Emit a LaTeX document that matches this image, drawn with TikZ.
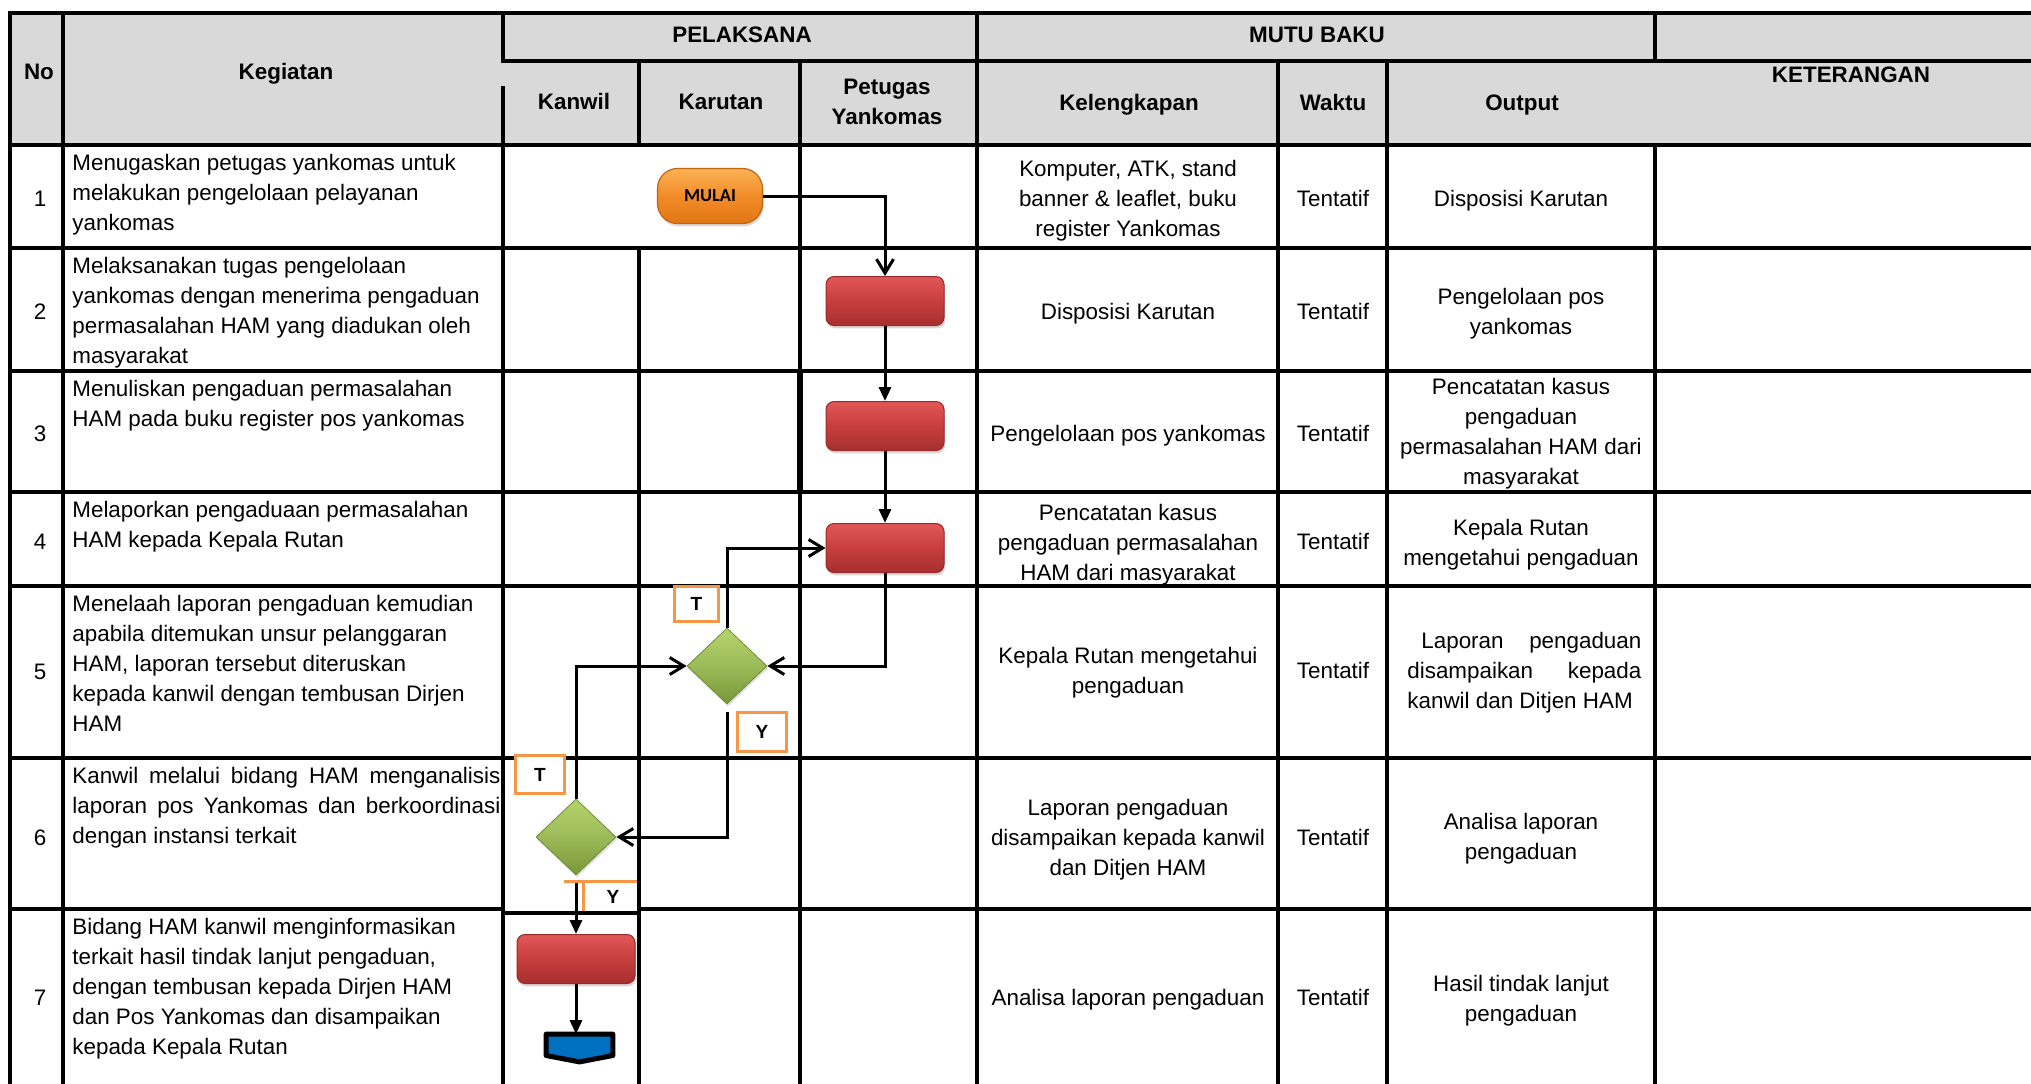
\documentclass[tikz,border=0pt]{standalone}
\usepackage{fontspec}
\setmainfont{Liberation Sans}
\newfontfamily\calibfont{Carlito}
\usetikzlibrary{arrows.meta,shapes.geometric,shadows,calc}

\definecolor{hdrgray}{HTML}{D9D9D9}
\definecolor{lblorange}{HTML}{F79646}
\definecolor{redtop}{HTML}{E25656}
\definecolor{redmid}{HTML}{C83E3E}
\definecolor{redbot}{HTML}{A62F2F}
\definecolor{redline}{HTML}{9A2A2A}
\definecolor{greentop}{HTML}{B6D46C}
\definecolor{greenmid}{HTML}{9BBB59}
\definecolor{greenbot}{HTML}{789838}
\definecolor{greenline}{HTML}{6E8C33}
\definecolor{orgtop}{HTML}{FBB255}
\definecolor{orgmid}{HTML}{F28C28}
\definecolor{orgbot}{HTML}{E07614}
\definecolor{orgline}{HTML}{C0640E}
\definecolor{endblue}{HTML}{0070C0}

\newcommand{\cellbox}[2]{\parbox[t]{#1}{\centering #2}}
\newcommand{\leftbox}[2]{\parbox[t]{#1}{\raggedright #2}}

\begin{document}
\begin{tikzpicture}[x=0.5pt,y=-0.5pt,
  every node/.style={font=\fontsize{11.2}{15}\selectfont, inner sep=0pt},
  rule/.style={line width=1.6pt, line cap=rect},
  hdr/.style={anchor=base, font=\fontsize{11.2}{15}\selectfont\bfseries},
  body/.style={anchor=base},
  keg/.style={anchor=base west},
  startstop/.style={rectangle, rounded corners=10pt, minimum width=52.5pt,
    minimum height=27.5pt, draw=orgline, line width=0.6pt,
    top color=orgtop, bottom color=orgbot, middle color=orgmid,
    drop shadow={opacity=0.3, shadow xshift=0.6pt, shadow yshift=-1.4pt},
    font=\calibfont\bfseries\fontsize{9.2}{10}\selectfont},
  procbox/.style={rectangle, rounded corners=4pt, minimum width=59pt,
    minimum height=24.5pt, draw=redline, line width=0.5pt,
    top color=redtop, bottom color=redbot, middle color=redmid,
    drop shadow={opacity=0.3, shadow xshift=0.6pt, shadow yshift=-1.4pt}},
  decision/.style={diamond, minimum width=40pt, minimum height=38pt,
    draw=greenline, line width=0.4pt,
    top color=greentop, bottom color=greenbot, middle color=greenmid,
    drop shadow={opacity=0.25, shadow xshift=0.5pt, shadow yshift=-1.2pt}},
  lblbox/.style={rectangle, draw=lblorange, line width=1.5pt, fill=white,
    font=\fontsize{9.5}{10}\selectfont\bfseries},
  lbltext/.style={font=\fontsize{9.5}{10}\selectfont\bfseries},
  lblline/.style={draw=lblorange, line width=1.5pt},
  endnode/.style={rectangle, minimum width=33pt, minimum height=13.5pt},
  endshape/.style={fill=endblue, draw=black, line width=2.5pt, line join=round},
  conn/.style={line width=1.5pt},
  vee/.style={-{Straight Barb[length=7pt,width=8.5pt]}},
  filled/.style={-{Triangle[length=7pt,width=6pt]}}
]
\useasboundingbox (0,0) rectangle (2031,1083);
\fill[white] (0,0) rectangle (2031,1083);

% header band
\fill[hdrgray] (10,13) rectangle (2031,145);

% horizontal rules
\draw[rule] (10,13) -- (2031,13);
\draw[rule] (503,61) -- (2031,61);
\foreach \yy in {145,248,371,492,586,758}
  \draw[rule] (10,\yy) -- (2031,\yy);
\draw[rule] (10,909) -- (503,909);
\draw[rule] (507,913) -- (636,913);
\draw[rule] (639,909) -- (2031,909);

% vertical rules
\draw[rule] (10,13) -- (10,1083);
\draw[rule] (63,13) -- (63,1083);
\draw[rule] (503,13) -- (503,61);
\draw[rule] (503,88) -- (503,1083);
\draw[rule] (639,61) -- (639,145);
\draw[rule] (639,248) -- (639,1083);
\draw[rule] (800,61) -- (800,1083);
\draw[line width=2.6pt] (800,371) -- (800,492);
\draw[rule] (977,13) -- (977,1083);
\draw[rule] (1278,61) -- (1278,1083);
\draw[rule] (1387,61) -- (1387,1083);
\draw[rule] (1655,13) -- (1655,61);
\draw[rule] (1655,145) -- (1655,1083);

% header labels
\node[hdr] (hno) at (39,79) {No};
\node[hdr] (hkeg) at (286,79) {Kegiatan};
\node[hdr] (hpel) at (742,42) {PELAKSANA};
\node[hdr] (hmutu) at (1317,42) {MUTU BAKU};
\node[hdr] (hket) at (1851,82) {KETERANGAN};
\node[hdr] (hkanwil) at (574,109) {Kanwil};
\node[hdr] (hkarutan) at (721,109) {Karutan};
\node[hdr] (hpetugas) at (887,94) {\cellbox{80pt}{Petugas\\Yankomas}};
\node[hdr] (hkel) at (1129,110) {Kelengkapan};
\node[hdr] (hwaktu) at (1333,110) {Waktu};
\node[hdr] (houtput) at (1522,110) {Output};

% row numbers
\node[body] (n1) at (40,206) {1};
\node[body] (n2) at (40,319) {2};
\node[body] (n3) at (40,441) {3};
\node[body] (n4) at (40,549) {4};
\node[body] (n5) at (40,679) {5};
\node[body] (n6) at (40,845) {6};
\node[body] (n7) at (40,1005) {7};

% activities
\node[keg] (k1) at (72,170) {\leftbox{230pt}{Menugaskan petugas yankomas untuk\\melakukan pengelolaan pelayanan\\yankomas}};
\node[keg] (k2) at (72,273) {\leftbox{230pt}{Melaksanakan tugas pengelolaan\\yankomas dengan menerima pengaduan\\permasalahan HAM yang diadukan oleh\\masyarakat}};
\node[keg] (k3) at (72,396) {\leftbox{230pt}{Menuliskan pengaduan permasalahan\\HAM pada buku register pos yankomas}};
\node[keg] (k4) at (72,517) {\leftbox{230pt}{Melaporkan pengaduaan permasalahan\\HAM kepada Kepala Rutan}};
\node[keg] (k5) at (72,611) {\leftbox{230pt}{Menelaah laporan pengaduan kemudian\\apabila ditemukan unsur pelanggaran\\HAM, laporan tersebut diteruskan\\kepada kanwil dengan tembusan Dirjen\\HAM}};
\node[keg] (k6) at (72,783) {\leftbox{230pt}{\makebox[214pt][s]{Kanwil melalui bidang HAM menganalisis}\\\makebox[214pt][s]{laporan pos Yankomas dan berkoordinasi}\\dengan instansi terkait}};
\node[keg] (k7) at (72,934) {\leftbox{230pt}{Bidang HAM kanwil menginformasikan\\terkait hasil tindak lanjut pengaduan,\\dengan tembusan kepada Dirjen HAM\\dan Pos Yankomas dan disampaikan\\kepada Kepala Rutan}};

% completeness column
\node[body] (l1) at (1128,176) {\cellbox{148pt}{Komputer, ATK, stand\\banner \& leaflet, buku\\register Yankomas}};
\node[body] (l2) at (1128,319) {\cellbox{148pt}{Disposisi Karutan}};
\node[body] (l3) at (1128,441) {\cellbox{148pt}{Pengelolaan pos yankomas}};
\node[body] (l4) at (1128,520) {\cellbox{148pt}{Pencatatan kasus\\pengaduan permasalahan\\HAM dari masyarakat}};
\node[body] (l5) at (1128,663) {\cellbox{148pt}{Kepala Rutan mengetahui\\pengaduan}};
\node[body] (l6) at (1128,815) {\cellbox{148pt}{Laporan pengaduan\\disampaikan kepada kanwil\\dan Ditjen HAM}};
\node[body] (l7) at (1128,1005) {\cellbox{148pt}{Analisa laporan pengaduan}};

% time column
\node[body] (w1) at (1333,206) {Tentatif};
\node[body] (w2) at (1333,319) {Tentatif};
\node[body] (w3) at (1333,441) {Tentatif};
\node[body] (w4) at (1333,549) {Tentatif};
\node[body] (w5) at (1333,678) {Tentatif};
\node[body] (w6) at (1333,845) {Tentatif};
\node[body] (w7) at (1333,1005) {Tentatif};

% output column
\node[body] (o1) at (1521,206) {\cellbox{132pt}{Disposisi Karutan}};
\node[body] (o2) at (1521,304) {\cellbox{132pt}{Pengelolaan pos\\yankomas}};
\node[body] (o3) at (1521,394) {\cellbox{132pt}{Pencatatan kasus\\pengaduan\\permasalahan HAM dari\\masyarakat}};
\node[body] (o4) at (1521,535) {\cellbox{132pt}{Kepala Rutan\\mengetahui pengaduan}};
\node[keg] (o5) at (1407,648) {\leftbox{130pt}{\makebox[117pt][s]{\hspace*{7pt}Laporan pengaduan}\\\makebox[117pt][s]{disampaikan kepada}\\kanwil dan Ditjen HAM}};
\node[body] (o6) at (1521,829) {\cellbox{132pt}{Analisa laporan\\pengaduan}};
\node[body] (o7) at (1521,991) {\cellbox{132pt}{Hasil tindak lanjut\\pengaduan}};

% flow symbols
\node[startstop] (mulai) at (710,196) {MULAI};
\node[procbox] (b1) at (885,301) {};
\node[procbox] (b2) at (885,426) {};
\node[procbox] (b3) at (885,548) {};
\node[decision] (d1) at (727,666) {};
\node[decision] (d2) at (576,837) {};
\node[procbox] (b4) at (576,959) {};
\node[endnode] (end) at (579.5,1048) {};
\draw[endshape] (end.north west) -- (end.north east) -- ([yshift=3.2pt]end.south east)
  -- (end.south) -- ([yshift=3.2pt]end.south west) -- cycle;

% decision labels
\node[lblbox, minimum width=22pt, minimum height=17.5pt] (t1) at (696.5,604) {T};
\node[lblbox, minimum width=24.5pt, minimum height=19.5pt] (y1) at (762,732) {Y};
\node[lblbox, minimum width=24.5pt, minimum height=19pt] (t2) at (540,774.5) {T};
\node[lbltext] (y2) at (613,897) {Y};
\draw[lblline] (564,881) -- (637,881);
\draw[lblline] (583,881) -- (583,911);

% connectors
\draw[conn, vee] (mulai.east) -| (b1.north);
\draw[conn, filled] (b1.south) -- (b2.north);
\draw[conn, filled] (b2.south) -- (b3.north);
\draw[conn, vee] (b3.south) |- (d1.east);
\draw[conn, vee] (d1.north) |- (b3.west);
\draw[conn, vee, shorten <=4pt] (d1.south) |- (d2.east);
\draw[conn, vee] (d2.north) |- (d1.west);
\draw[conn, filled, shorten <=4pt] (d2.south) -- (b4.north);
\draw[conn, filled] (b4.south) -- (b4.south |- end.north);
\end{tikzpicture}
\end{document}
